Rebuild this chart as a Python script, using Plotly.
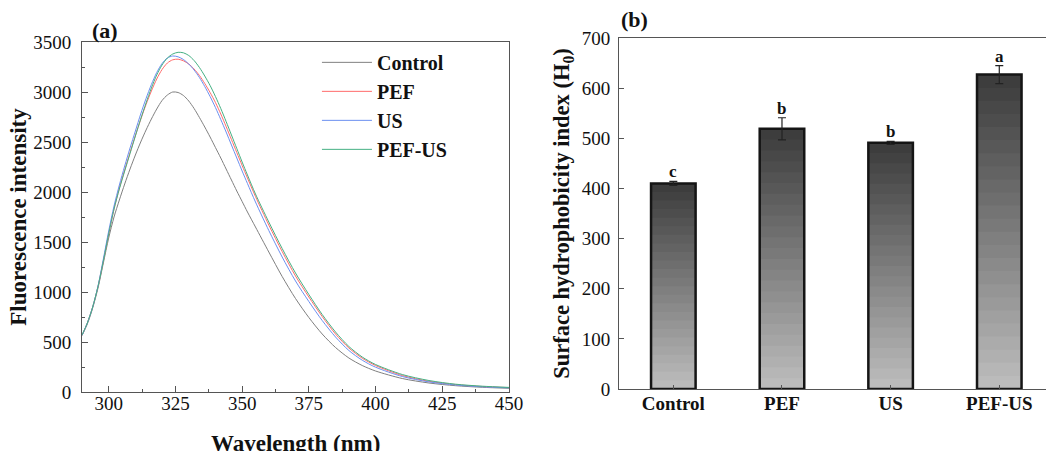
import plotly.graph_objects as go

# ---------------- data: panel (a) fluorescence spectra ----------------
wavelength = [290, 292, 294, 296, 298, 300, 302, 304, 306, 308, 310, 312, 314, 316, 318,
              320, 322, 324, 326, 328, 330, 332, 334, 336, 338, 340, 342, 344, 346, 348,
              350, 352, 355, 360, 365, 370, 375, 380, 385, 390, 395, 400, 410, 420, 430,
              440, 450]

control = [565, 680, 840, 1040, 1290, 1540, 1750, 1920, 2080, 2230, 2370, 2500, 2620, 2730, 2830,
           2915, 2970, 3000, 2995, 2965, 2910, 2835, 2745, 2650, 2550, 2445, 2340, 2230, 2120, 2010,
           1905, 1800, 1650, 1400, 1155, 935, 745, 580, 445, 340, 265, 210, 135, 90, 63,
           47, 37]

pef = [565, 690, 850, 1055, 1310, 1580, 1830, 2040, 2220, 2395, 2565, 2725, 2875, 3010, 3130,
       3225, 3290, 3322, 3328, 3312, 3280, 3230, 3165, 3085, 2995, 2895, 2780, 2655, 2525, 2395,
       2265, 2140, 1955, 1670, 1405, 1160, 950, 755, 580, 440, 338, 265, 165, 107, 74,
       55, 44]

us = [565, 690, 850, 1060, 1330, 1610, 1860, 2070, 2260, 2440, 2610, 2780, 2935, 3075, 3195,
      3285, 3340, 3360, 3352, 3325, 3280, 3220, 3145, 3055, 2955, 2845, 2725, 2600, 2470, 2340,
      2210, 2085, 1900, 1615, 1350, 1110, 905, 715, 550, 415, 318, 248, 155, 101, 70,
      52, 42]

pef_us = [570, 690, 850, 1055, 1310, 1580, 1830, 2030, 2210, 2385, 2560, 2730, 2890, 3040, 3170,
          3270, 3340, 3380, 3397, 3392, 3365, 3315, 3245, 3160, 3065, 2955, 2835, 2705, 2570, 2435,
          2300, 2170, 1980, 1700, 1435, 1190, 975, 775, 600, 455, 350, 275, 175, 115, 78,
          58, 46]

series_names = ["Control", "PEF", "US", "PEF-US"]
series_colors = ["#808080", "#ff6b6b", "#6b8ff0", "#45b083"]

# ---------------- data: panel (b) surface hydrophobicity ----------------
groups = ["Control", "PEF", "US", "PEF-US"]
h0 = [410, 519, 491, 627]
h0_err = [4, 22, 3, 18]
letters = ["c", "b", "b", "a"]

FONT = "Liberation Serif"
W, H = 1046, 451

fig = go.Figure()

for name, ys, col in zip(series_names, [control, pef, us, pef_us], series_colors):
    fig.add_trace(go.Scatter(x=wavelength, y=ys, mode="lines", name=f"<b>{name}</b>",
                             line=dict(color=col, width=1, shape="spline", smoothing=0.8),
                             legendgroup=name, xaxis="x", yaxis="y"))

# gradient bars: nested bars from 0, tallest (darkest top) drawn first
N = 24
def shade(frac):
    light, dark = 190, 58
    v = int(round(light + (dark - light) * frac))
    return f"rgb({v},{v},{v})"

for k in range(N, 0, -1):
    fig.add_trace(go.Bar(x=groups, y=[v * k / N for v in h0],
                         width=0.41, marker=dict(color=shade((k - 0.5) / N), line=dict(width=0)),
                         showlegend=False, hoverinfo="skip", xaxis="x2", yaxis="y2"))

fig.add_trace(go.Bar(x=groups, y=h0, width=0.41,
                     marker=dict(color="rgba(0,0,0,0)", line=dict(color="#151515", width=2.5)),
                     error_y=dict(type="data", array=h0_err, color="#222222", thickness=1.2, width=4),
                     showlegend=False, xaxis="x2", yaxis="y2"))

for g, v, e, t in zip(groups, h0, h0_err, letters):
    fig.add_annotation(x=g, y=v + e, xref="x2", yref="y2", text=f"<b>{t}</b>", showarrow=False,
                       yanchor="bottom", yshift=-2, font=dict(family=FONT, size=17, color="#111"))

TICKFONT = dict(family=FONT, size=19, color="#111")
axis_common = dict(showline=True, linecolor="#555555", linewidth=1, ticks="inside",
                   tickcolor="#555555", showgrid=False, zeroline=False, automargin=False,
                   tickfont=TICKFONT)

fig.update_layout(
    width=W, height=H, margin=dict(l=0, r=0, t=0, b=0, pad=0),
    plot_bgcolor="white", paper_bgcolor="white", barmode="overlay",
    font=dict(family=FONT, color="#111"),
    xaxis=dict(domain=[82 / W, 509 / W], range=[290, 450], mirror=True,
               tickvals=[300, 325, 350, 375, 400, 425, 450], ticklen=6, ticklabelstandoff=-6,
               minor=dict(ticks="inside", ticklen=3, dtick=12.5, tick0=287.5, tickcolor="#555555"),
               anchor="y", **axis_common),
    yaxis=dict(domain=[1 - 392 / H, 1 - 42 / H], range=[0, 3500], mirror=True,
               tickvals=[0, 500, 1000, 1500, 2000, 2500, 3000, 3500], ticklen=6, ticklabelstandoff=6,
               minor=dict(ticks="inside", ticklen=3, dtick=250, tickcolor="#555555"),
               title=dict(text="<b>Fluorescence intensity</b>", font=dict(family=FONT, size=23), standoff=0),
               anchor="x", **axis_common),
    xaxis2=dict(domain=[619 / W, 1.0], range=[-0.5, 3.43], mirror=True, ticklen=4,
                tickvals=groups, ticktext=[f"<b>{g}</b>" for g in groups], layer="above traces",
                ticklabelstandoff=-3, anchor="y2", **axis_common),
    yaxis2=dict(domain=[1 - 389 / H, 1 - 38 / H], range=[0, 700], dtick=100, ticklen=5,
                ticklabelstandoff=4,
                title=dict(text="<b>Surface hydrophobicity index (H<sub>0</sub>)</b>",
                           font=dict(family=FONT, size=22.5), standoff=5),
                anchor="x2", **axis_common),
    legend=dict(x=0.303, y=0.905, xanchor="left", yanchor="top", bgcolor="rgba(0,0,0,0)",
                font=dict(family=FONT, size=20, color="#111"), tracegroupgap=0, itemwidth=50),
)

# x-axis title of panel (a), placed low like the reference (partly below the page edge)
fig.add_annotation(x=(82 + 509) / 2 / W, y=1 - 443 / H, xref="paper", yref="paper",
                   text="<b>Wavelength (nm)</b>", showarrow=False, xanchor="center", yanchor="middle",
                   font=dict(family=FONT, size=23, color="#111"))

for txt, xp, yp in [("<b>(a)</b>", 90, 30), ("<b>(b)</b>", 619, 20)]:
    fig.add_annotation(x=xp / W, y=1 - yp / H, xref="paper", yref="paper", text=txt,
                       showarrow=False, xanchor="left", yanchor="middle",
                       font=dict(family=FONT, size=22, color="#111"))

# remove the browser's default 8px page margin so the figure sits at the window origin
fig.write_html("out.html", config={"displayModeBar": False},
               post_script="document.body.style.margin='0px';")
